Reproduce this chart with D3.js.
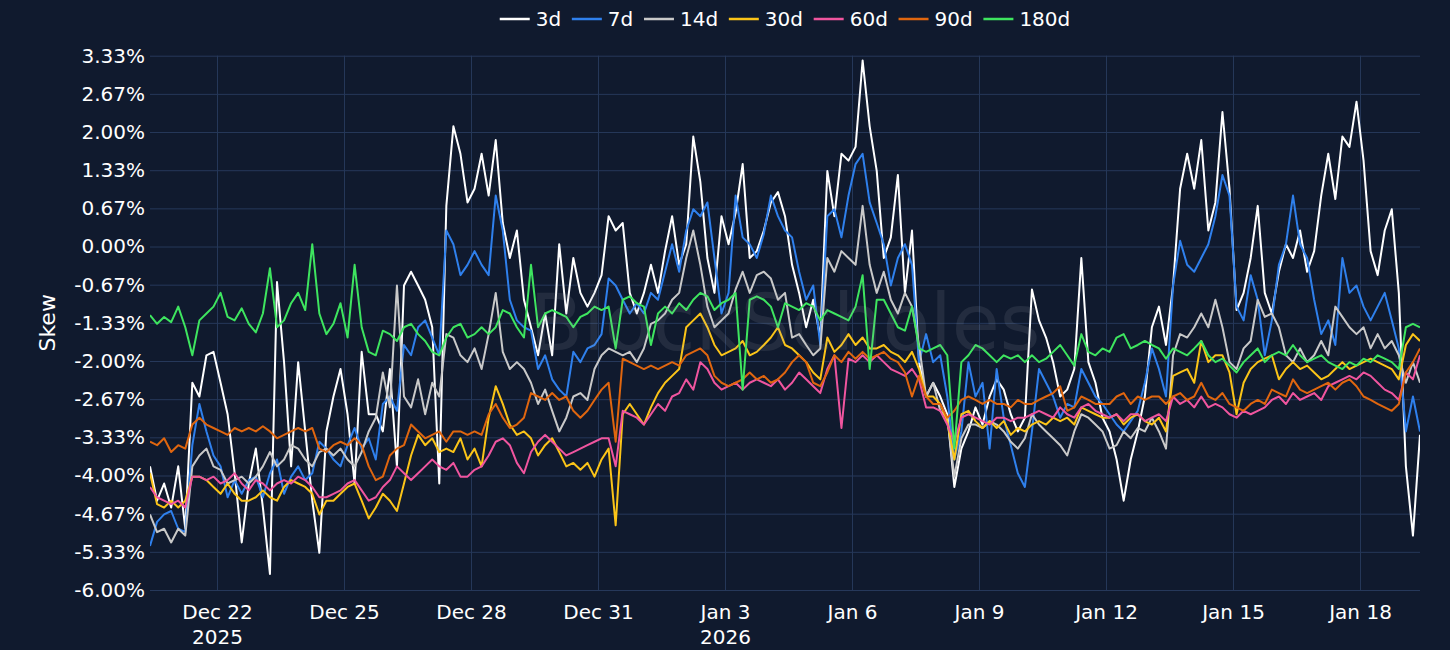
<!DOCTYPE html>
<html lang="en">

<head>
	<meta charset="utf-8">
	<title>skew</title>
	<style>
		html,
		body {
			margin: 0;
			padding: 0;
			background: #101a2e;
		}
	</style>
</head>

<body>
	<script src="https://cdn.jsdelivr.net/npm/d3@7"></script>
	<script>

		// samples every 4 hours starting at startTime
		const startTime = "2025-12-20T10:00:00Z";
		const stepHours = 4;

		const seriesNames = ["3d", "7d", "14d", "30d", "60d", "90d", "180d"];

		const skew3d = [
			-3.84, -4.44, -4.14, -4.56, -3.84, -4.93, -2.38, -2.62, -1.90, -1.84, -2.38, -2.93, -3.96, -5.17, -4.14, -3.53, -4.56, -5.72, -0.62, -2.02, -3.84, -2.02, -3.23, -4.44, -5.35, -3.23, -2.62, -2.14, -2.93, -4.14, -1.84, -2.93, -2.93, -3.23, -2.14, -3.84, -0.68,
			-0.44, -0.68, -0.93, -1.41, -4.14, 0.71, 2.10, 1.62, 0.77, 1.01, 1.62, 0.89, 1.86, 0.41, -0.20, 0.28, -0.93, -1.41, -1.90, -1.17, -1.90, 0.04, -1.17, -0.20, -0.81, -1.05, -0.81, -0.50, 0.53, 0.28, 0.41, -0.81, -1.17, -0.81, -0.32, -0.81,
			-0.08, 0.53, -0.32, 0.04, 1.92, 1.13, -0.20, -0.81, 0.53, 0.04, 0.59, 1.44, -0.20, -0.08, 0.28, 0.77, 0.95, 0.53, -0.32, -0.81, -1.41, -0.93, -1.59, 1.32, 0.53, 1.62, 1.50, 1.74, 3.25, 2.10, 1.32, -0.20, 0.16, 1.25, -0.81, 0.28,
			-2.02, -2.62, -2.38, -2.62, -2.93, -4.20, -3.53, -3.23, -2.81, -3.11, -2.62, -2.32, -2.50, -2.93, -3.23, -2.99, -0.75, -1.29, -1.59, -2.02, -2.62, -2.50, -2.14, -0.20, -2.02, -2.38, -2.99, -3.23, -3.72, -4.44, -3.72, -3.23, -2.62, -1.41, -1.05, -1.72,
			-0.68, 1.01, 1.62, 1.01, 1.86, 0.28, 0.77, 2.35, 1.01, -1.11, -0.81, -0.20, 0.71, -0.81, -1.17, -0.44, 0.04, -0.20, 0.28, -0.44, -0.08, 0.89, 1.62, 0.83, 1.92, 1.74, 2.53, 1.50, -0.08, -0.50, 0.28, 0.65, -0.81, -3.84, -5.05, -3.29
		];

		const skew7d = [
			-5.23, -4.81, -4.68, -4.62, -4.93, -4.99, -3.47, -2.75, -3.23, -3.65, -3.84, -4.38, -4.08, -4.32, -4.08, -4.02, -4.38, -3.96, -3.72, -4.32, -4.02, -3.84, -4.08, -3.96, -3.41, -3.53, -3.72, -3.84, -3.47, -3.17, -3.53, -3.35, -3.72, -2.75, -2.62, -2.87, -1.72,
			-1.90, -1.41, -1.29, -1.59, -1.90, 0.28, 0.04, -0.50, -0.32, -0.08, -0.32, -0.50, 0.89, 0.28, -0.93, -1.29, -1.41, -1.47, -2.14, -1.90, -2.32, -2.50, -2.62, -1.84, -2.02, -1.78, -1.72, -1.53, -0.56, -0.68, -0.93, -1.17, -0.99, -1.17, -0.81, -0.93,
			-0.44, 0.04, -0.44, 0.28, 0.65, 0.53, 0.77, -0.20, -1.17, -0.81, 0.89, 0.16, 0.04, -0.20, 0.22, 0.89, 0.53, 0.28, 0.16, -0.44, -0.93, -0.68, -1.72, 0.53, 0.65, 0.16, 0.89, 1.44, 1.62, 0.77, 0.41, 0.04, -0.68, -0.20, 0.04, -0.32,
			-2.02, -1.53, -2.02, -1.90, -2.62, -3.72, -3.23, -2.02, -2.62, -2.38, -3.53, -2.14, -2.99, -3.47, -3.96, -4.20, -3.23, -2.14, -2.38, -2.62, -2.99, -2.75, -2.81, -2.14, -2.38, -2.62, -2.75, -2.93, -3.11, -3.23, -3.05, -2.87, -2.38, -1.78, -2.14, -2.62,
			-0.68, 0.10, -0.32, -0.44, -0.20, 0.04, 0.53, 1.25, 0.89, -1.05, -1.29, -0.50, -0.93, -1.90, -1.29, -0.32, 0.04, 0.89, 0.04, -0.20, -0.93, -1.53, -1.29, -1.72, -0.20, -0.81, -0.68, -1.05, -1.29, -1.05, -0.81, -1.29, -1.78, -3.23, -2.62, -3.23
		];

		const skew14d = [
			-4.68, -4.99, -4.93, -5.17, -4.93, -5.05, -3.84, -3.65, -3.53, -3.84, -3.90, -4.14, -4.08, -4.02, -4.14, -4.02, -3.84, -3.59, -3.84, -3.72, -3.47, -3.53, -3.72, -3.84, -3.59, -3.53, -3.65, -3.53, -3.72, -3.84, -3.59, -3.23, -2.99, -2.20, -2.81, -0.68, -2.62,
			-2.81, -2.32, -2.93, -2.38, -2.62, -1.53, -1.59, -1.90, -2.02, -1.78, -2.14, -1.53, -0.81, -1.84, -2.14, -2.02, -2.14, -2.38, -2.75, -2.50, -2.87, -3.23, -2.99, -2.62, -2.56, -2.68, -2.14, -1.90, -1.78, -1.84, -1.90, -1.84, -2.02, -1.78, -1.35, -1.29,
			-1.17, -0.93, -0.81, -0.20, 0.28, -0.32, -1.05, -1.41, -1.29, -1.17, -0.75, -0.44, -0.81, -0.50, -0.44, -0.56, -0.93, -0.81, -1.59, -1.53, -1.72, -1.90, -1.78, -0.20, -0.44, -0.08, -0.20, -0.32, 0.71, -0.32, -0.81, -0.44, -0.93, -1.17, -0.81, -1.05,
			-1.72, -2.62, -2.38, -2.87, -2.99, -4.02, -3.35, -3.11, -3.11, -3.17, -3.05, -3.11, -3.23, -3.41, -3.53, -3.35, -2.93, -3.11, -3.23, -3.35, -3.47, -3.65, -3.23, -2.93, -2.99, -3.11, -3.23, -3.53, -3.47, -3.23, -3.35, -3.17, -3.23, -2.99, -3.23, -3.53,
			-1.90, -1.53, -1.59, -1.41, -1.17, -1.41, -0.93, -1.41, -2.02, -2.14, -1.78, -1.65, -0.93, -1.23, -1.17, -1.41, -1.90, -2.02, -1.78, -2.02, -1.90, -1.65, -1.90, -1.05, -1.23, -1.41, -1.53, -1.41, -1.78, -1.53, -1.78, -1.65, -1.90, -2.38, -2.02, -2.38
		];

		const skew30d = [
			-3.96, -4.50, -4.56, -4.44, -4.56, -4.44, -4.02, -4.02, -4.08, -4.20, -4.32, -4.14, -4.32, -4.44, -4.44, -4.38, -4.26, -4.38, -4.44, -4.20, -4.08, -4.14, -4.20, -4.32, -4.68, -4.44, -4.44, -4.32, -4.20, -4.14, -4.44, -4.75, -4.56, -4.32, -4.44, -4.62, -4.14,
			-3.65, -3.29, -3.47, -3.35, -3.59, -3.53, -3.59, -3.35, -3.72, -3.53, -3.84, -2.99, -2.44, -2.75, -3.11, -3.29, -3.23, -3.35, -3.65, -3.47, -3.35, -3.59, -3.84, -3.78, -3.90, -3.78, -4.02, -3.72, -3.53, -4.87, -2.93, -2.75, -2.93, -3.11, -2.81, -2.56,
			-2.38, -2.26, -2.14, -1.41, -1.29, -1.17, -1.41, -1.72, -1.90, -1.84, -1.78, -1.65, -1.90, -1.84, -1.72, -1.59, -1.41, -1.72, -1.78, -1.90, -2.02, -2.20, -2.32, -1.59, -1.84, -1.72, -1.53, -1.72, -1.59, -1.78, -1.78, -1.72, -1.84, -1.90, -2.02, -1.84,
			-2.14, -2.62, -2.62, -2.75, -3.05, -3.72, -2.93, -2.87, -3.05, -3.17, -3.05, -3.17, -3.05, -3.29, -3.17, -3.23, -3.11, -3.05, -3.11, -2.99, -3.05, -2.99, -3.11, -2.81, -2.87, -2.93, -2.99, -2.99, -2.93, -3.11, -2.99, -2.93, -3.05, -3.11, -2.99, -3.23,
			-2.26, -2.20, -2.14, -2.38, -1.65, -2.02, -1.90, -1.90, -2.20, -2.93, -2.38, -2.14, -2.02, -1.96, -1.90, -2.32, -2.14, -2.02, -2.14, -2.08, -2.20, -2.32, -2.26, -2.14, -2.02, -2.14, -2.08, -2.02, -1.96, -2.02, -2.08, -2.14, -2.32, -1.72, -1.53, -1.65
		];

		const skew60d = [
			-4.20, -4.38, -4.44, -4.50, -4.44, -4.56, -4.02, -4.02, -4.08, -4.02, -4.14, -4.08, -3.96, -4.14, -4.26, -4.08, -4.14, -4.26, -4.14, -4.08, -4.14, -4.02, -4.08, -4.20, -4.38, -4.38, -4.32, -4.26, -4.14, -4.08, -4.26, -4.44, -4.38, -4.20, -4.08, -3.84, -3.96,
			-4.08, -3.96, -3.84, -3.72, -3.84, -3.90, -3.78, -4.02, -4.02, -3.90, -3.84, -3.65, -3.41, -3.35, -3.47, -3.78, -3.96, -3.59, -3.41, -3.29, -3.41, -3.53, -3.65, -3.59, -3.53, -3.47, -3.41, -3.35, -3.35, -3.84, -2.87, -2.93, -2.99, -3.11, -2.93, -2.75,
			-2.87, -2.62, -2.56, -2.32, -2.50, -2.02, -2.14, -2.38, -2.50, -2.44, -2.38, -2.50, -2.38, -2.32, -2.38, -2.44, -2.32, -2.50, -2.38, -2.20, -2.32, -2.44, -2.56, -2.14, -1.90, -3.17, -1.96, -2.02, -1.90, -2.02, -1.90, -2.02, -2.14, -2.20, -2.26, -2.14,
			-2.32, -2.81, -2.81, -2.87, -3.11, -3.41, -2.99, -2.93, -2.99, -3.05, -3.11, -2.99, -2.99, -3.05, -2.99, -2.99, -2.93, -2.87, -2.93, -2.99, -2.81, -2.93, -2.99, -2.81, -2.75, -2.87, -2.93, -2.99, -2.93, -3.05, -2.93, -2.93, -3.05, -2.99, -2.93, -3.05,
			-2.62, -2.75, -2.68, -2.81, -2.62, -2.81, -2.75, -2.81, -2.93, -2.99, -2.87, -2.93, -2.87, -2.81, -2.68, -2.62, -2.75, -2.56, -2.68, -2.62, -2.56, -2.68, -2.44, -2.38, -2.32, -2.26, -2.32, -2.20, -2.26, -2.38, -2.50, -2.56, -2.68, -2.20, -2.32, -1.90
		];

		const skew90d = [
			-3.41, -3.47, -3.35, -3.59, -3.47, -3.53, -3.11, -2.99, -3.11, -3.17, -3.23, -3.29, -3.17, -3.23, -3.17, -3.23, -3.14, -3.23, -3.35, -3.29, -3.23, -3.17, -3.23, -3.17, -3.53, -3.59, -3.47, -3.41, -3.47, -3.35, -3.47, -3.84, -4.08, -4.02, -3.65, -3.53, -3.47,
			-3.11, -3.23, -3.35, -3.29, -3.23, -3.41, -3.23, -3.23, -3.29, -3.23, -3.29, -2.93, -2.75, -2.99, -3.17, -3.11, -2.99, -2.56, -2.62, -2.68, -2.56, -2.68, -2.62, -2.87, -2.99, -2.87, -2.68, -2.50, -2.38, -3.41, -1.96, -2.02, -2.08, -2.14, -2.08, -2.14,
			-2.08, -2.02, -2.08, -1.90, -1.84, -1.78, -1.90, -2.26, -2.38, -2.44, -2.38, -2.32, -2.20, -2.32, -2.26, -2.38, -2.32, -2.20, -2.02, -1.90, -2.02, -2.38, -2.44, -2.20, -1.90, -2.02, -1.84, -1.96, -1.84, -1.96, -1.90, -1.84, -1.96, -2.02, -2.20, -2.62,
			-2.26, -2.62, -2.75, -2.75, -2.99, -2.87, -2.68, -2.62, -2.68, -2.75, -2.68, -2.75, -2.75, -2.81, -2.68, -2.75, -2.75, -2.68, -2.62, -2.56, -2.44, -2.87, -2.81, -2.62, -2.68, -2.75, -2.75, -2.75, -2.62, -2.56, -2.75, -2.62, -2.68, -2.62, -2.62, -2.75,
			-2.62, -2.56, -2.68, -2.62, -2.38, -2.62, -2.68, -2.56, -2.75, -2.81, -2.87, -2.75, -2.68, -2.75, -2.50, -2.56, -2.62, -2.32, -2.50, -2.56, -2.50, -2.44, -2.38, -2.50, -2.38, -2.32, -2.44, -2.62, -2.68, -2.75, -2.81, -2.87, -2.75, -2.20, -2.02, -1.78
		];

		const skew180d = [
			-1.20, -1.35, -1.23, -1.32, -1.05, -1.41, -1.90, -1.29, -1.17, -1.05, -0.81, -1.23, -1.29, -1.08, -1.35, -1.50, -1.17, -0.38, -1.41, -1.29, -0.99, -0.81, -1.11, 0.04, -1.17, -1.53, -1.35, -0.99, -1.59, -0.32, -1.41, -1.84, -1.90, -1.47, -1.53, -1.65, -1.41,
			-1.35, -1.53, -1.65, -1.84, -1.90, -1.59, -1.41, -1.35, -1.59, -1.53, -1.41, -1.53, -1.41, -1.11, -1.17, -1.41, -1.59, -0.32, -1.41, -1.17, -1.11, -1.17, -1.23, -1.41, -1.23, -1.17, -1.05, -1.11, -1.05, -1.78, -0.93, -0.87, -0.99, -1.05, -1.72, -1.17,
			-1.05, -1.17, -0.99, -1.11, -0.93, -0.81, -0.87, -1.11, -0.99, -0.93, -0.81, -2.50, -0.93, -0.87, -0.93, -1.05, -1.41, -0.99, -1.05, -1.11, -0.99, -1.05, -1.29, -1.11, -1.17, -1.23, -1.29, -1.05, -0.50, -2.14, -0.93, -0.93, -1.17, -1.41, -1.47, -1.05,
			-1.78, -1.84, -1.78, -1.72, -1.90, -3.53, -2.02, -1.90, -1.72, -1.78, -1.90, -2.02, -1.90, -1.96, -1.90, -2.02, -1.90, -2.02, -1.96, -1.84, -1.72, -1.90, -2.08, -1.53, -1.84, -1.90, -1.78, -1.84, -1.59, -1.53, -1.78, -1.72, -1.65, -1.72, -1.78, -1.96,
			-1.78, -1.84, -1.90, -1.78, -1.65, -1.90, -2.02, -1.96, -2.08, -2.20, -2.02, -1.90, -1.78, -2.02, -1.90, -1.84, -1.90, -1.72, -1.90, -2.02, -1.96, -1.90, -2.02, -2.08, -2.14, -2.02, -2.08, -1.96, -2.02, -1.90, -1.96, -2.02, -2.14, -1.41, -1.35, -1.41
		];

		const xTickDates = ["2025-12-22", "2025-12-25", "2025-12-28", "2025-12-31", "2026-01-03", "2026-01-06", "2026-01-09", "2026-01-12", "2026-01-15", "2026-01-18"];
		const yTickValues = [-6, -5.3333, -4.6667, -4, -3.3333, -2.6667, -2, -1.3333, -0.6667, 0, 0.6667, 1.3333, 2, 2.6667, 3.3333];

		const colors = ["#ffffff", "#2f80ed", "#c9c9c9", "#fbc418", "#f0559f", "#e0660f", "#3ee55f"];

		initD3();

		function initD3() {
			const width = 1450;
			const height = 650;
			const margin = { top: 55.7, right: 30, bottom: 60, left: 150 };
			const font = "'DejaVu Sans', sans-serif";
			const gridColor = "#26385a";

			const t0 = new Date(startTime).getTime();
			const columns = [skew3d, skew7d, skew14d, skew30d, skew60d, skew90d, skew180d];
			const series = seriesNames.map((name, i) => {
				return {
					name,
					color: colors[i],
					values: columns[i].map((v, k) => {
						return { t: new Date(t0 + k * stepHours * 3600e3), v };
					})
				};
			});

			const allTimes = series.flatMap((s) => s.values.map((d) => d.t));

			const x = d3.scaleUtc()
				.domain(d3.extent(allTimes))
				.range([margin.left, width - margin.right]);

			const y = d3.scaleLinear()
				.domain([d3.min(yTickValues), d3.max(yTickValues)])
				.range([height - margin.bottom, margin.top]);

			const svg = d3.select(document.body)
				.append("svg")
				.attr("width", width)
				.attr("height", height)
				.attr("style", `display:block; background:#101a2e; font-family:${font};`);

			// y grid + labels (plain hyphen for negatives, as in the source)
			const pct = d3.format(".2f");
			const yAxis = svg.append("g")
				.attr("transform", `translate(${margin.left},0)`)
				.call(d3.axisLeft(y)
					.tickValues(yTickValues)
					.tickSize(-(width - margin.left - margin.right))
					.tickPadding(5)
					.tickFormat((d) => pct(d).replace("\u2212", "-") + "%"));
			yAxis.select(".domain").remove();
			yAxis.selectAll(".tick line").attr("stroke", gridColor).attr("stroke-width", 1);
			yAxis.selectAll(".tick text")
				.attr("fill", "#ffffff")
				.attr("font-size", 20)
				.attr("font-family", font);

			// x grid + labels
			const tickDates = xTickDates.map((s) => new Date(s + "T00:00:00Z"));
			const fmtDay = d3.utcFormat("%b %-d");
			const xAxis = svg.append("g")
				.attr("transform", `translate(0,${height - margin.bottom})`)
				.call(d3.axisBottom(x)
					.tickValues(tickDates)
					.tickSize(-(height - margin.top - margin.bottom))
					.tickPadding(15)
					.tickFormat(() => ""));
			xAxis.select(".domain").remove();
			xAxis.selectAll(".tick line").attr("stroke", gridColor).attr("stroke-width", 1);
			xAxis.selectAll(".tick text")
				.attr("fill", "#ffffff")
				.attr("font-size", 20)
				.attr("font-family", font)
				.each(function (d, i) {
					const el = d3.select(this);
					el.append("tspan").attr("x", 0).text(fmtDay(d));
					const prev = i > 0 ? tickDates[i - 1] : null;
					if (!prev || prev.getUTCFullYear() !== d.getUTCFullYear()) {
						el.append("tspan").attr("x", 0).attr("dy", "1.25em").text(d.getUTCFullYear());
					}
				});

			// lines
			svg.append("clipPath")
				.attr("id", "plot-clip")
				.append("rect")
				.attr("x", margin.left)
				.attr("y", margin.top - 10)
				.attr("width", width - margin.left - margin.right)
				.attr("height", height - margin.top - margin.bottom + 20);

			const line = d3.line()
				.x((d) => x(d.t))
				.y((d) => y(d.v));

			svg.append("g")
				.attr("clip-path", "url(#plot-clip)")
				.selectAll("path")
				.data(series)
				.join("path")
				.attr("fill", "none")
				.attr("stroke", (d) => d.color)
				.attr("stroke-width", 2)
				.attr("stroke-linejoin", "round")
				.attr("d", (d) => line(d.values));

			// watermark
			svg.append("text")
				.attr("x", (margin.left + width - margin.right) / 2)
				.attr("y", (margin.top + height - margin.bottom) / 2)
				.attr("text-anchor", "middle")
				.attr("dominant-baseline", "central")
				.attr("font-size", 78)
				.attr("font-family", font)
				.attr("fill", "#a0a6b2")
				.attr("opacity", 0.13)
				.text("BlockScholes");

			// y title
			svg.append("text")
				.attr("transform", `translate(47,${(margin.top + height - margin.bottom) / 2}) rotate(-90)`)
				.attr("text-anchor", "middle")
				.attr("dominant-baseline", "central")
				.attr("fill", "#ffffff")
				.attr("font-size", 22)
				.attr("font-family", font)
				.text("Skew");

			// legend
			const legend = svg.append("g");
			let cursor = 0;
			series.forEach((s) => {
				const g = legend.append("g").attr("transform", `translate(${cursor},0)`);
				g.append("line")
					.attr("x1", 0).attr("x2", 30)
					.attr("stroke", s.color)
					.attr("stroke-width", 2.5);
				const label = g.append("text")
					.attr("x", 36)
					.attr("dominant-baseline", "central")
					.attr("fill", "#ffffff")
					.attr("font-size", 20)
					.attr("font-family", font)
					.text(s.name);
				cursor += 36 + label.node().getComputedTextLength() + 10.7;
			});
			const legendWidth = cursor - 10.7;
			const center = (margin.left + width - margin.right) / 2;
			legend.attr("transform", `translate(${center - legendWidth / 2},19)`);
		}
	</script>
</body>

</html>
